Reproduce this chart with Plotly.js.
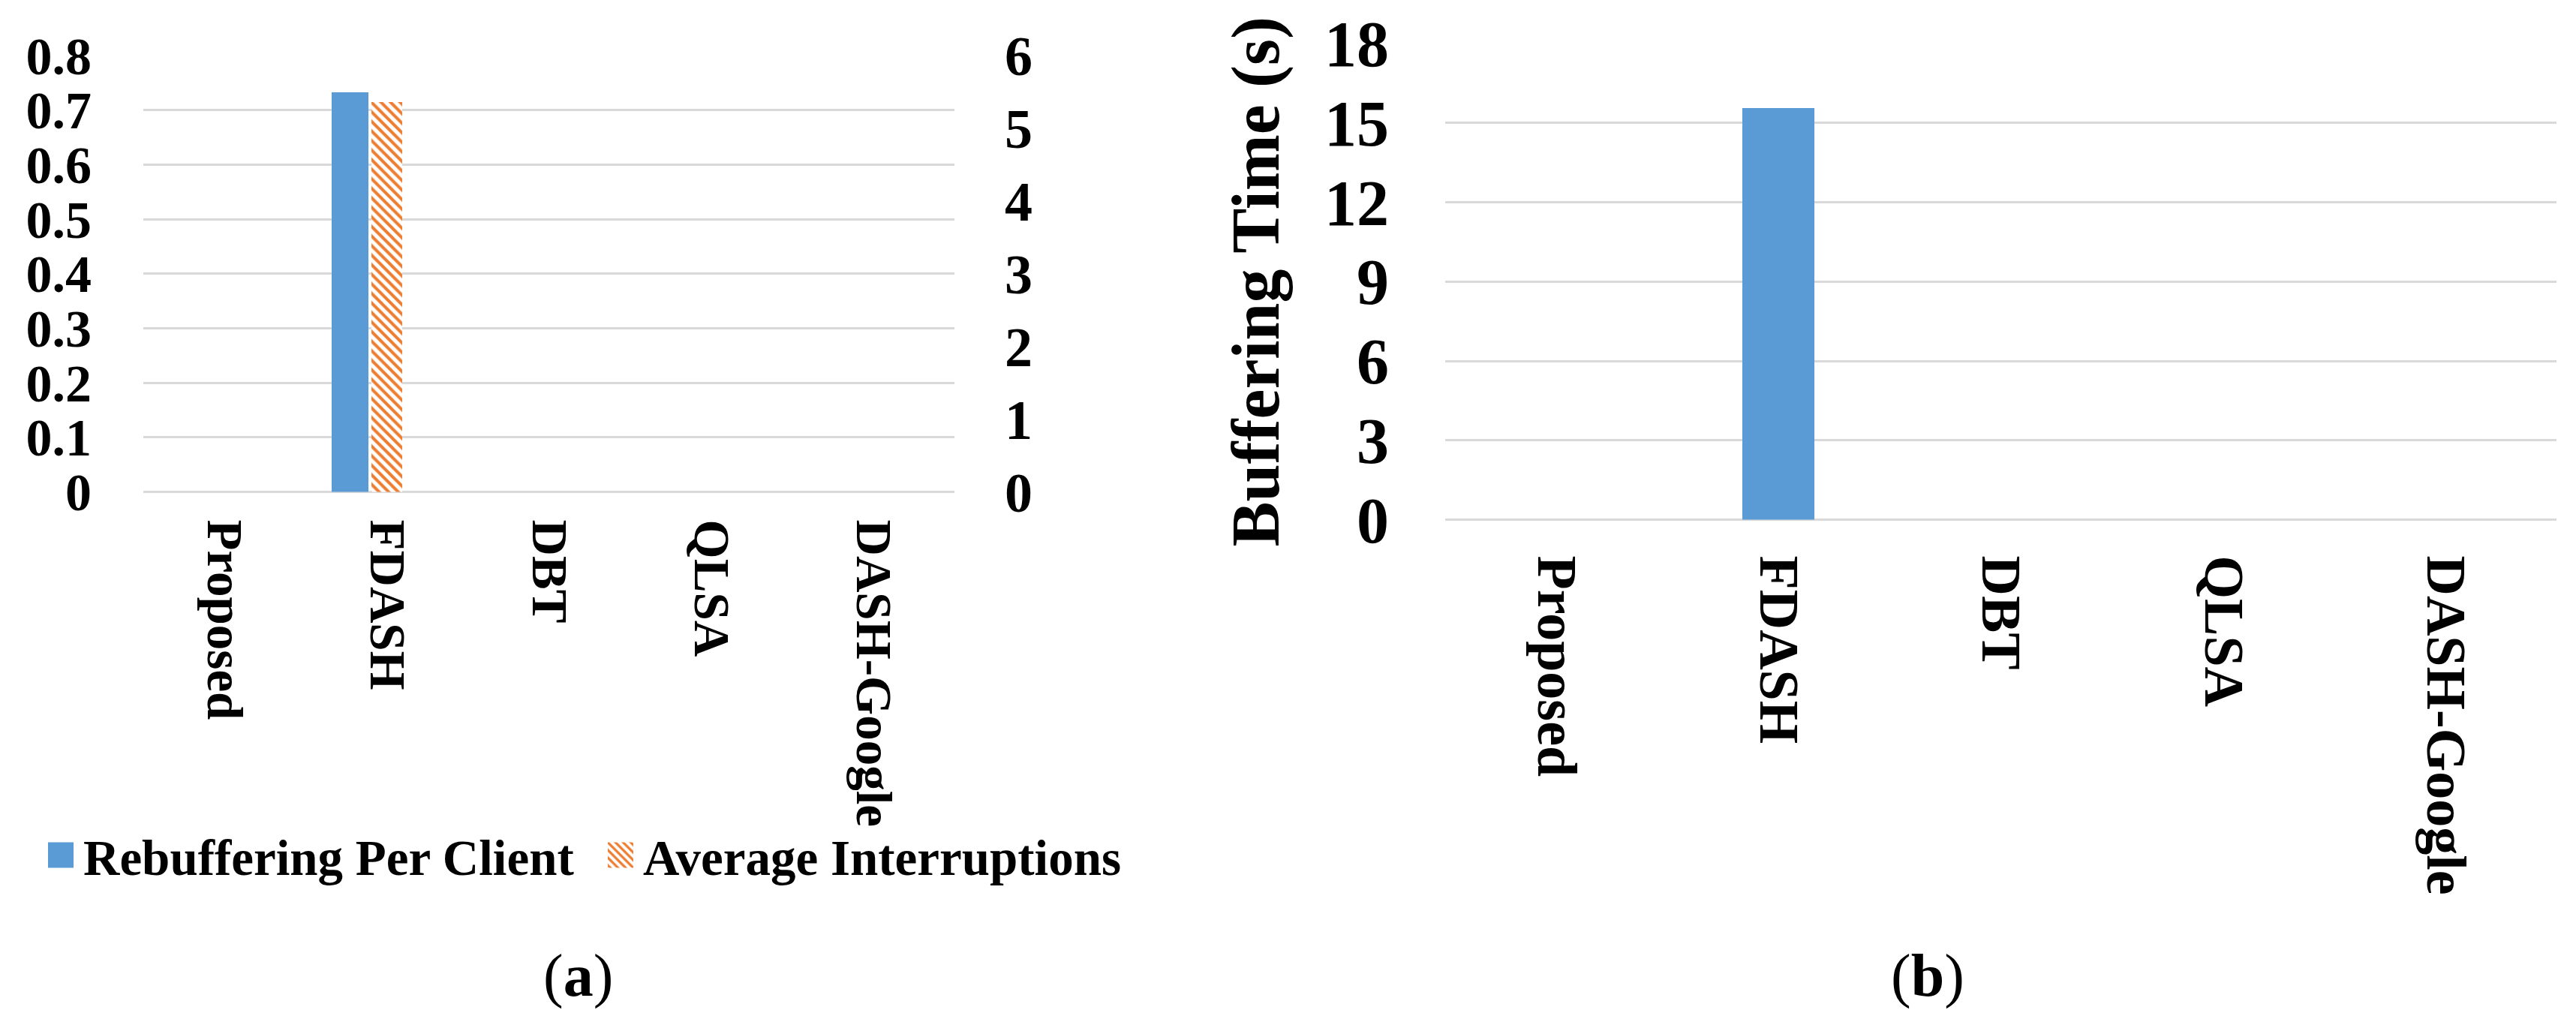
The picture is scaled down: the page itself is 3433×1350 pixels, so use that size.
<!DOCTYPE html>
<html>
<head>
<meta charset="utf-8">
<script src="https://cdn.plot.ly/plotly-3.0.1.min.js"></script>
<style>
  html, body { margin: 0; padding: 0; background: #fff; }
  #chart { width: 3433px; height: 1350px; }
</style>
</head>
<body>
<div id="chart"></div>
<script>
// data
var methods = ["Proposed", "FDASH", "DBT", "QLSA", "DASH-Google"];
var rebufferingPerClient = [0, 0.733, 0, 0, 0];   // left axis
var averageInterruptions = [0, 5.36, 0, 0, 0];    // right axis
var bufferingTime = [0, 15.56, 0, 0, 0];          // panel (b)

var serif = "Times New Roman, Liberation Serif, serif";
var blue = "#5B9BD5";
var orange = "#ED7D31";
var grid = "#D9D9D9";

// panel (a)
var trace1 = {
  x: methods,
  y: rebufferingPerClient,
  name: "Rebuffering Per Client",
  type: "bar",
  xaxis: "x",
  yaxis: "y",
  offset: -0.339,
  width: 0.227,
  marker: {color: blue, line: {width: 0}}
};

var trace2 = {
  x: methods,
  y: averageInterruptions,
  name: "Average Interruptions",
  type: "bar",
  xaxis: "x",
  yaxis: "y2",
  offset: -0.094,
  width: 0.19,
  marker: {
    color: orange,
    line: {width: 0},
    pattern: {shape: "\\", fgcolor: orange, bgcolor: "white", size: 9, solidity: 0.45}
  }
};

// panel (b)
var trace3 = {
  x: methods,
  y: bufferingTime,
  name: "Buffering Time",
  type: "bar",
  xaxis: "x2",
  yaxis: "y3",
  width: 0.324,
  showlegend: false,
  marker: {color: blue, line: {width: 0}}
};

var layout = {
  width: 3433,
  height: 1350,
  margin: {l: 0, r: 0, t: 0, b: 0},
  paper_bgcolor: "white",
  plot_bgcolor: "white",
  showlegend: true,
  bargap: 0,
  barmode: "overlay",
  font: {family: serif, color: "black"},
  xaxis: {
    domain: [191 / 3433, 1272 / 3433],
    anchor: "y",
    type: "category",
    showgrid: false,
    showline: false,
    zeroline: false,
    ticks: "",
    tickangle: 90,
    ticklabelstandoff: 36,
    tickfont: {family: serif, size: 67, weight: "bold", color: "black"}
  },
  yaxis: {
    domain: [1 - 655.6 / 1350, 1 - 74 / 1350],
    anchor: "x",
    range: [0, 0.8],
    dtick: 0.1,
    showgrid: true,
    gridcolor: grid,
    gridwidth: 3,
    zeroline: true,
    zerolinecolor: grid,
    zerolinewidth: 3,
    showline: false,
    ticks: "",
    ticklabelstandoff: 68,
    tickfont: {family: serif, size: 70, weight: "bold", color: "black"}
  },
  yaxis2: {
    overlaying: "y",
    anchor: "x",
    side: "right",
    range: [0, 6],
    dtick: 1,
    showgrid: false,
    zeroline: false,
    showline: false,
    ticks: "",
    ticklabelstandoff: 66,
    tickfont: {family: serif, size: 74, weight: "bold", color: "black"}
  },
  xaxis2: {
    domain: [1926 / 3433, 3407 / 3433],
    anchor: "y3",
    type: "category",
    showgrid: false,
    showline: false,
    zeroline: false,
    ticks: "",
    tickangle: 90,
    ticklabelstandoff: 47,
    tickfont: {family: serif, size: 74, weight: "bold", color: "black"}
  },
  yaxis3: {
    domain: [1 - 692.5 / 1350, 1 - 58 / 1350],
    anchor: "x2",
    range: [0, 18],
    dtick: 3,
    showgrid: true,
    gridcolor: grid,
    gridwidth: 3,
    zeroline: true,
    zerolinecolor: grid,
    zerolinewidth: 3,
    showline: false,
    ticks: "",
    ticklabelstandoff: 74,
    tickfont: {family: serif, size: 86, weight: "bold", color: "black"},
    title: {
      text: "Buffering Time (s)",
      standoff: 30,
      font: {family: serif, size: 90, weight: "bold", color: "black"}
    }
  },
  legend: {
    orientation: "h",
    x: 51 / 3433,
    xanchor: "left",
    y: 1 - 1140 / 1350,
    yanchor: "middle",
    itemwidth: 50,
    entrywidth: 681,
    bgcolor: "rgba(0,0,0,0)",
    font: {family: serif, size: 67, weight: "bold", color: "black"}
  },
  annotations: [
    {text: "(<b>a</b>)", x: 770 / 3433, y: 1 - 1300 / 1350, xref: "paper", yref: "paper",
     xanchor: "center", yanchor: "middle",
     showarrow: false, font: {family: serif, size: 80, color: "black"}},
    {text: "(<b>b</b>)", x: 2569 / 3433, y: 1 - 1300 / 1350, xref: "paper", yref: "paper",
     xanchor: "center", yanchor: "middle",
     showarrow: false, font: {family: serif, size: 80, color: "black"}}
  ]
};

Plotly.newPlot("chart", [trace1, trace2, trace3], layout, {staticPlot: true}).then(function (gd) {
  // legend swatches are fixed at 12px, make them the size of the figure's
  gd.querySelectorAll(".legend .legendpoints path").forEach(function (p) {
    p.setAttribute("d", "M17,17H-17V-17H17Z");
  });
});
</script>
</body>
</html>
